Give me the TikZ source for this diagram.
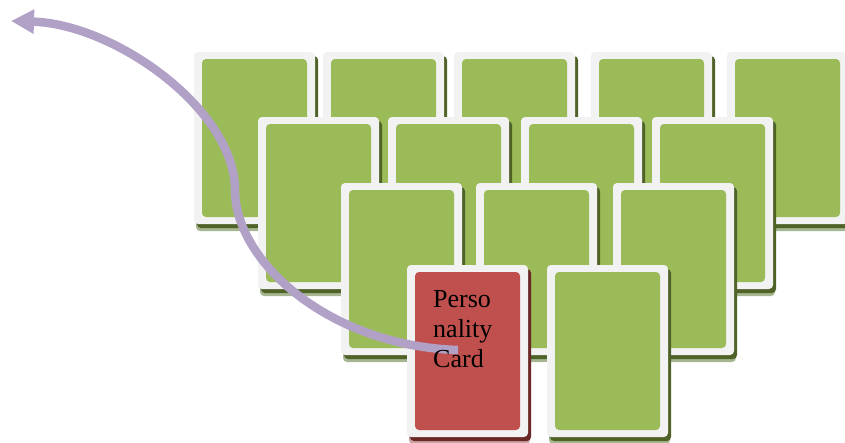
\documentclass[tikz,border=0pt]{standalone}
\usepackage{fontspec}
\setmainfont{Liberation Serif}
\usetikzlibrary{shadows,arrows.meta}
\definecolor{cardgreen}{HTML}{9BBB59}
\definecolor{cardred}{HTML}{C0504D}
\definecolor{cardedge}{HTML}{F2F2F2}
\definecolor{shgreendark}{HTML}{4F6228}
\definecolor{shgreenlight}{HTML}{A5B690}
\definecolor{shreddark}{HTML}{6A2826}
\definecolor{shredlight}{HTML}{C9A3A2}
\definecolor{arrowpurple}{HTML}{B2A1C7}
\tikzset{
  cardbase/.style n args={3}{rectangle, rounded corners=4pt, fill=cardedge,
    minimum width=121pt, minimum height=172pt, inner sep=0pt, outer sep=0pt,
    anchor=north west,
    general shadow={shadow xshift=2pt, shadow yshift=-7pt, fill=#3},
    general shadow={shadow xshift=3pt, shadow yshift=-4pt, fill=#2},
    path picture={\fill[#1] ([shift={(8pt,-7pt)}]path picture bounding box.north west)
      rectangle ([shift={(-8pt,7pt)}]path picture bounding box.south east);}},
  greencard/.style={cardbase={cardgreen}{shgreendark}{shgreenlight}},
  redcard/.style={cardbase={cardred}{shreddark}{shredlight}},
  arrowline/.style={draw=arrowpurple, line width=8.5pt,
    -{Triangle[length=23pt,width=23pt]}},
  cardtext/.style={font=\fontsize{26}{30}\selectfont, align=left, inner sep=0pt, text=black}
}
\begin{document}
\begin{tikzpicture}[x=1pt,y=-1pt]
\useasboundingbox (0,0) rectangle (845,442);
\clip (0,0) rectangle (845,442);
% row 1
\node[greencard] (r1a) at (194,52) {};
\node[greencard] (r1b) at (323,52) {};
\node[greencard] (r1c) at (454,52) {};
\node[greencard] (r1d) at (591,52) {};
\node[greencard] (r1e) at (727,52) {};
% row 2
\node[greencard] (r2a) at (258,117) {};
\node[greencard] (r2b) at (388,117) {};
\node[greencard] (r2c) at (521,117) {};
\node[greencard] (r2d) at (652,117) {};
% row 3
\node[greencard] (r3a) at (341,183) {};
\node[greencard] (r3b) at (476,183) {};
\node[greencard] (r3c) at (613,183) {};
% row 4
\node[redcard] (r4a) at (407,265) {};
\node[greencard] (r4b) at (547,265) {};
% arrow
\coordinate (tail) at (458,350);
\coordinate (bend) at (235,190);
\coordinate (head) at (11,21);
\draw[arrowline] (tail) .. controls (330,346) and (235,262) .. (bend)
  .. controls (235,110) and (115,24) .. (head);
\node[cardtext, anchor=base west] (label) at (433,367) {Perso\\nality\\Card};
\end{tikzpicture}
\end{document}
